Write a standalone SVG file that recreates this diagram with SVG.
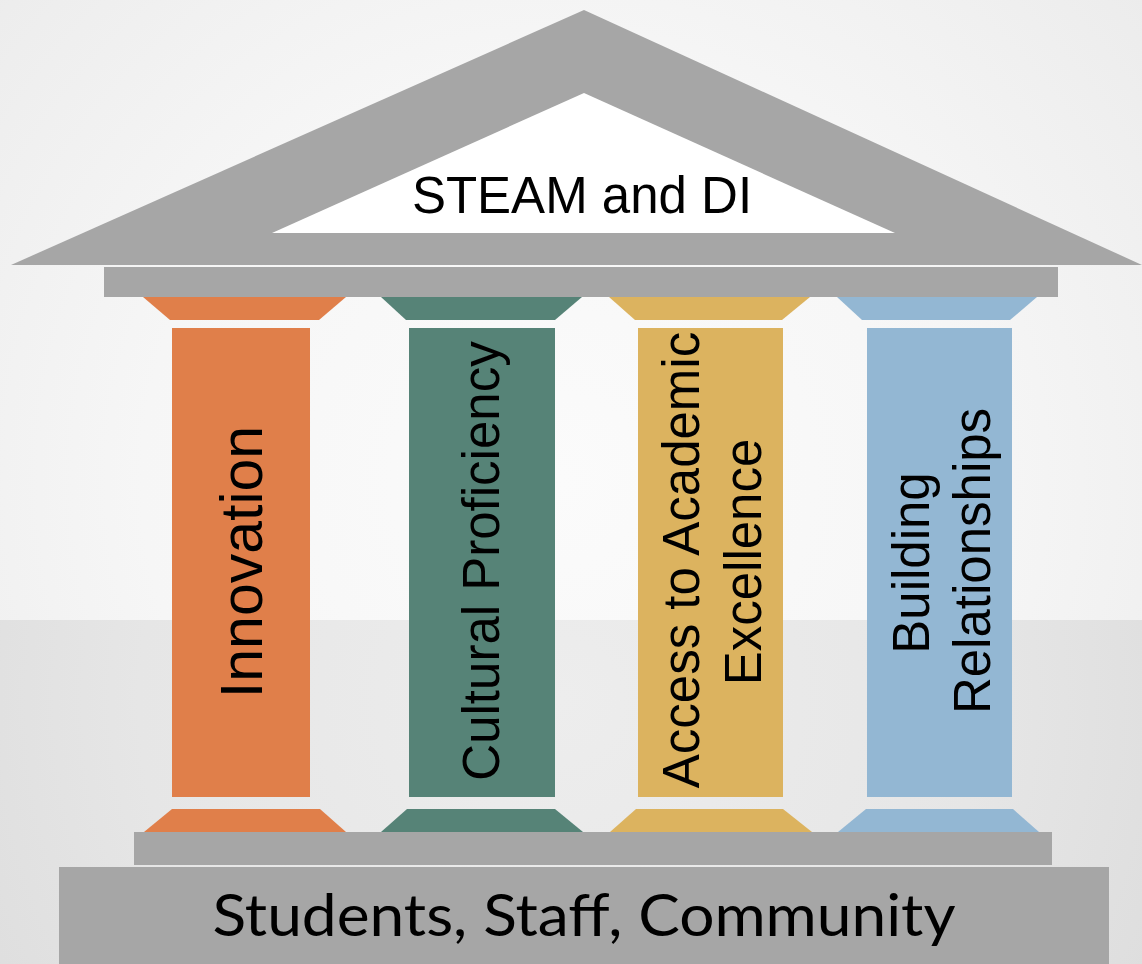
<svg xmlns="http://www.w3.org/2000/svg" width="1142" height="964" viewBox="0 0 1142 964">
  <defs>
    <radialGradient id="wallGrad" cx="560" cy="480" r="760" gradientUnits="userSpaceOnUse">
      <stop offset="0" stop-color="#fbfbfb"/>
      <stop offset="0.55" stop-color="#f6f6f6"/>
      <stop offset="1" stop-color="#ececec"/>
    </radialGradient>
    <radialGradient id="floorGrad" cx="560" cy="700" r="700" gradientUnits="userSpaceOnUse">
      <stop offset="0" stop-color="#ededed"/>
      <stop offset="0.6" stop-color="#e6e6e6"/>
      <stop offset="1" stop-color="#dcdcdc"/>
    </radialGradient>
    <style>
      .stone { fill: #a6a6a6; }
      .orange { fill: #e07f4a; }
      .teal { fill: #568377; }
      .gold { fill: #dcb35f; }
      .blue { fill: #93b7d3; }
      .label { font-family: "Liberation Sans", Arial, Helvetica, sans-serif; fill: #000; text-anchor: middle; }
      .pillar-label { font-size: 51px; }
      .base-label { font-family: Lato, "Open Sans", "Liberation Sans", sans-serif; font-size: 58px; fill: #000; text-anchor: middle; }
    </style>
  </defs>

  <!-- backdrop: wall and floor -->
  <rect x="0" y="0" width="1142" height="620" fill="url(#wallGrad)"/>
  <rect x="0" y="620" width="1142" height="344" fill="url(#floorGrad)"/>

  <!-- pediment -->
  <g id="roof">
    <polygon class="stone" points="584,10 11,265 1142,265"/>
    <polygon fill="#ffffff" points="584,93 272,233 895,233"/>
    <text class="label" x="582" y="213" font-size="51">STEAM and DI</text>
  </g>

  <!-- entablature beam -->
  <g id="entablature">
    <rect class="stone" x="104" y="267" width="954" height="30"/>
  </g>

  <!-- pillar 1 -->
  <g id="pillar-innovation">
    <polygon class="orange" points="143,297 346,297 319,320 170,320"/>
    <rect class="orange" x="172" y="328" width="138" height="469"/>
    <polygon class="orange" points="172,809 320,809 346,832 144,832"/>
    <text class="label" font-size="59" transform="translate(262,562) rotate(-90)">Innovation</text>
  </g>

  <!-- pillar 2 -->
  <g id="pillar-cultural">
    <polygon class="teal" points="381,297 582,297 555,320 406,320"/>
    <rect class="teal" x="409" y="328" width="146" height="469"/>
    <polygon class="teal" points="407,809 555,809 583,832 381,832"/>
    <text class="label pillar-label" transform="translate(499,561) rotate(-90)">Cultural Proficiency</text>
  </g>

  <!-- pillar 3 -->
  <g id="pillar-access">
    <polygon class="gold" points="609,297 810,297 782,320 635,320"/>
    <rect class="gold" x="638" y="328" width="145" height="469"/>
    <polygon class="gold" points="636,809 783,809 812,832 610,832"/>
    <text class="label pillar-label" transform="translate(699,560) rotate(-90)">Access to Academic</text>
    <text class="label pillar-label" transform="translate(761,562) rotate(-90)">Excellence</text>
  </g>

  <!-- pillar 4 -->
  <g id="pillar-relationships">
    <polygon class="blue" points="837,297 1037,297 1010,320 862,320"/>
    <rect class="blue" x="867" y="328" width="145" height="469"/>
    <polygon class="blue" points="866,809 1013,809 1039,832 838,832"/>
    <text class="label pillar-label" transform="translate(929,563) rotate(-90)">Building</text>
    <text class="label pillar-label" transform="translate(990,561) rotate(-90)">Relationships</text>
  </g>

  <!-- stylobate step -->
  <g id="stylobate">
    <rect class="stone" x="134" y="832" width="918" height="33"/>
  </g>

  <!-- foundation block -->
  <g id="foundation">
    <rect class="stone" x="59" y="867" width="1050" height="97"/>
    <text class="base-label" x="584" y="936" textLength="743" lengthAdjust="spacingAndGlyphs">Students, Staff, Community</text>
  </g>

  <g id="connectors"/>
</svg>
